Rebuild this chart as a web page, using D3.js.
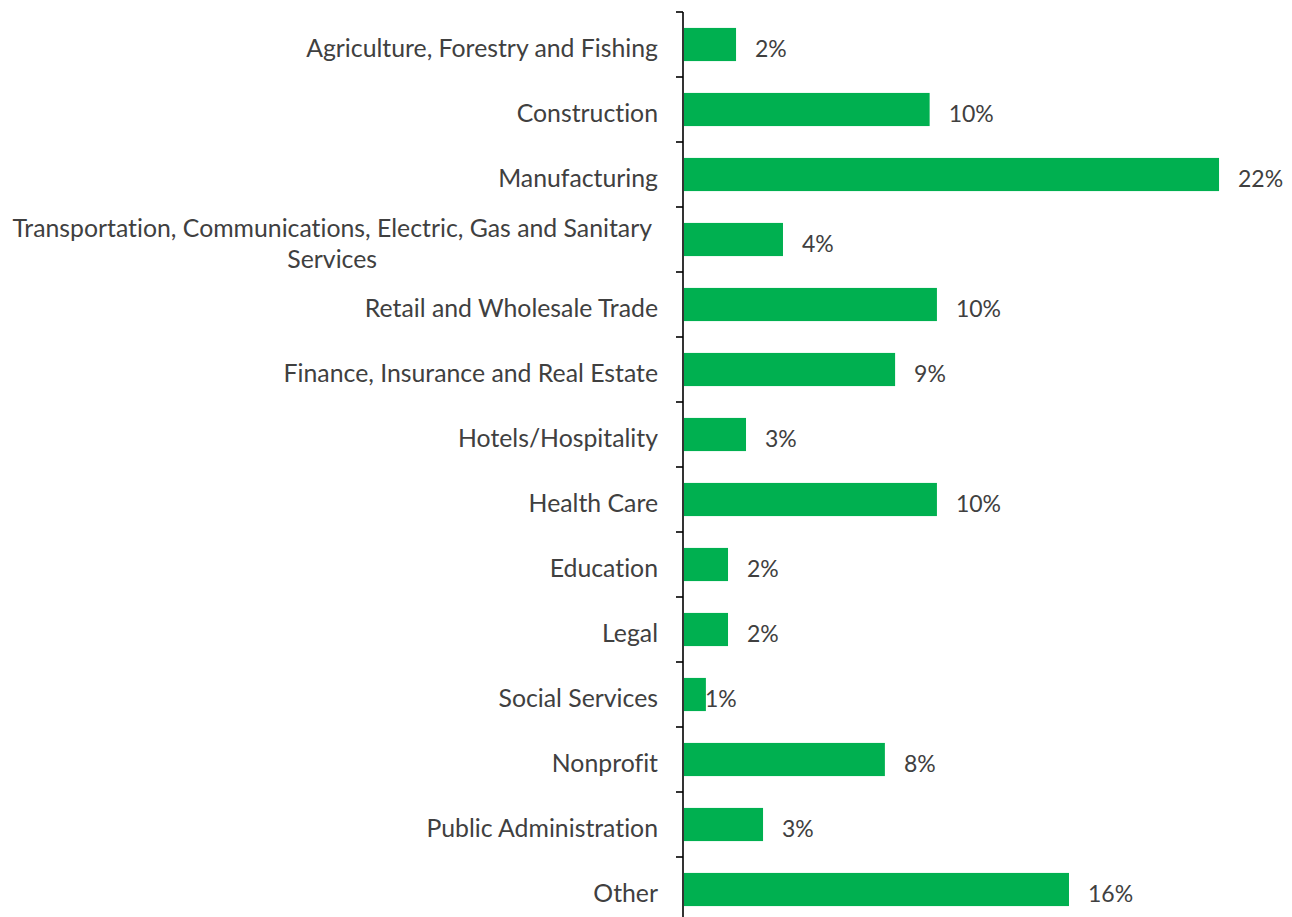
<!DOCTYPE html>
<html>
<head>
<meta charset="utf-8">
<script src="https://cdn.jsdelivr.net/npm/d3@7"></script>
<style>
  html, body { margin: 0; padding: 0; background: #fff; }
  svg { display: block; }
  text { font-family: Lato, "Open Sans", sans-serif; fill: #404040; font-variant-ligatures: none; }
</style>
</head>
<body>
<svg id="chart" width="1292" height="917"></svg>
<script>
// Industry categories, top to bottom
const categories = [
  "Agriculture, Forestry and Fishing",
  "Construction",
  "Manufacturing",
  "Transportation, Communications, Electric, Gas and Sanitary Services",
  "Retail and Wholesale Trade",
  "Finance, Insurance and Real Estate",
  "Hotels/Hospitality",
  "Health Care",
  "Education",
  "Legal",
  "Social Services",
  "Nonprofit",
  "Public Administration",
  "Other"
];

// Share of respondents per industry
const shares = [0.0214, 0.101, 0.220, 0.0407, 0.104, 0.0868, 0.0255, 0.104, 0.0181, 0.0181, 0.009, 0.0826, 0.0325, 0.1583];

const data = categories.map((c, i) => ({ category: c, value: shares[i] }));

const W = 1292, H = 917;
const axisX = 683;
const catFontSize = 24.8;
const valFontSize = 23;

const svg = d3.select("#chart");

const x = d3.scaleLinear().domain([0, 0.25]).range([axisX + 1, W]);
const y = d3.scaleBand()
  .domain(categories)
  .range([12, 922])
  .paddingInner(0.49)
  .paddingOuter(0.245);

const fmt = d3.format(".0%");
const gap = (y.step() - y.bandwidth()) / 2;

// bars
svg.append("g").selectAll("rect")
  .data(data)
  .join("rect")
  .attr("x", x(0))
  .attr("y", d => y(d.category))
  .attr("width", d => x(d.value) - x(0))
  .attr("height", y.bandwidth())
  .attr("fill", "#00B050");

// category axis: line with ticks at band boundaries
const axis = svg.append("g");
axis.append("line")
  .attr("x1", axisX).attr("x2", axisX)
  .attr("y1", y.range()[0]).attr("y2", y.range()[1])
  .attr("stroke", "#000").attr("stroke-width", 1.6);
const bounds = categories.map(c => y(c) - gap).concat([y(categories[categories.length - 1]) + y.bandwidth() + gap]);
axis.selectAll("line.tick")
  .data(bounds)
  .join("line")
  .attr("class", "tick")
  .attr("x1", axisX - 7).attr("x2", axisX)
  .attr("y1", d => d).attr("y2", d => d)
  .attr("stroke", "#000").attr("stroke-width", 1.6);

// category labels, wrapped and centred within a right-aligned block
const labelRight = 658;
const maxWidth = 660;
const lineHeight = 31;
const labels = svg.append("g").attr("font-size", catFontSize);
data.forEach(d => {
  const cy = y(d.category) + y.bandwidth() / 2 + 4;
  const probe = labels.append("text").attr("visibility", "hidden");
  const words = d.category.split(" ");
  const lines = [];
  let cur = [];
  words.forEach(w => {
    const test = cur.concat([w]).join(" ");
    probe.text(test);
    if (probe.node().getComputedTextLength() > maxWidth && cur.length) {
      lines.push(cur.join(" "));
      cur = [w];
    } else {
      cur.push(w);
    }
  });
  lines.push(cur.join(" "));
  const widths = lines.map(l => { probe.text(l); return probe.node().getComputedTextLength(); });
  probe.remove();
  const blockW = d3.max(widths);
  const multi = lines.length > 1;
  const t = labels.append("text")
    .attr("text-anchor", multi ? "middle" : "end");
  lines.forEach((l, i) => {
    t.append("tspan")
      .attr("x", multi ? labelRight - 6 - blockW / 2 : labelRight)
      .attr("y", cy + (i - (lines.length - 1) / 2) * lineHeight)
      .attr("dy", "0.35em")
      .text(l);
  });
});

// value labels just past each bar end
svg.append("g").attr("font-size", valFontSize)
  .selectAll("text")
  .data(data)
  .join("text")
  .attr("x", d => d.value < 0.01 ? x(d.value) - 1 : x(d.value) + 19)
  .attr("y", d => y(d.category) + y.bandwidth() / 2 + 4)
  .attr("dy", "0.35em")
  .text(d => fmt(d.value));
</script>
</body>
</html>
